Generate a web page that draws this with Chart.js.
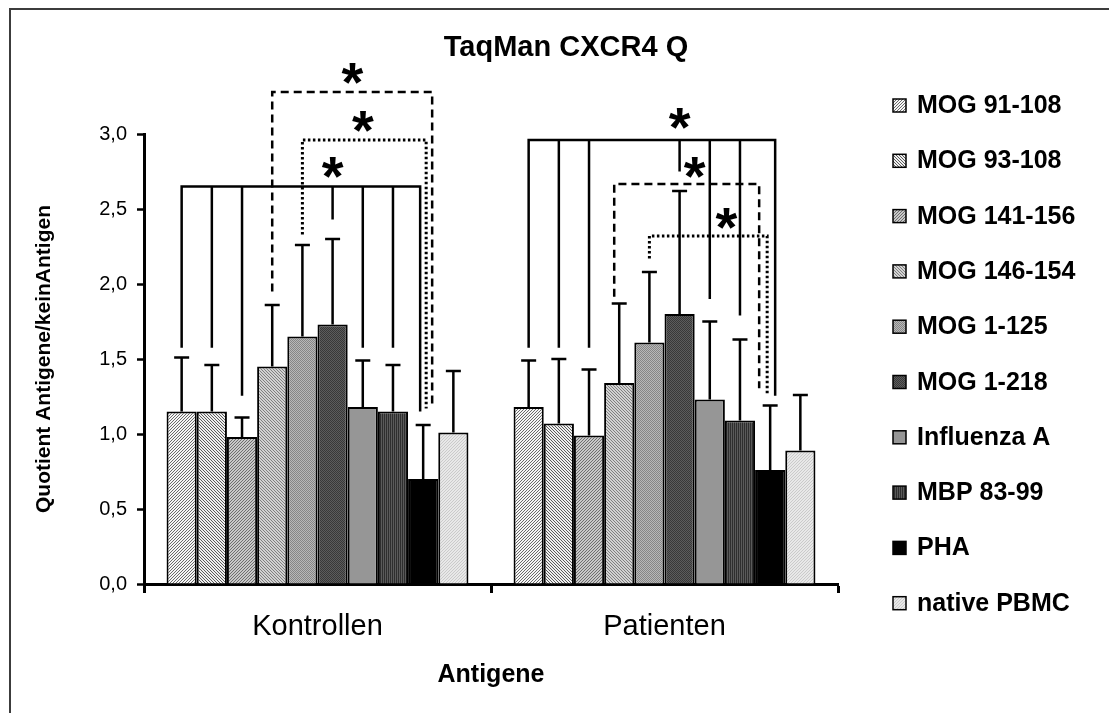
<!DOCTYPE html>
<html>
<head>
<meta charset="utf-8">
<script src="https://cdn.jsdelivr.net/npm/chart.js@4.4.1/dist/chart.umd.min.js"></script>
<style>
  html, body { margin: 0; padding: 0; background: #fff; overflow: hidden; }
  #frame { position: absolute; left: 9px; top: 8px; width: 1300px; height: 900px; border-left: 2px solid #3c3c3c; border-top: 2px solid #3c3c3c; }
  #chart { position: absolute; left: 0; top: 0; }
</style>
</head>
<body>
<div id="frame"></div>
<canvas id="chart" width="1109" height="713"></canvas>
<script>
(function () {
  'use strict';

  var chartTitle = 'TaqMan CXCR4 Q';
  var xTitle = 'Antigene';
  var yTitle = 'Quotient Antigene/keinAntigen';

  var groups = ['Kontrollen', 'Patienten'];
  var antigens = ['MOG 91-108', 'MOG 93-108', 'MOG 141-156', 'MOG 146-154', 'MOG 1-125',
    'MOG 1-218', 'Influenza A', 'MBP 83-99', 'PHA', 'native PBMC'];

  var kontrollenMean = [1.15, 1.15, 0.98, 1.45, 1.65, 1.73, 1.18, 1.15, 0.70, 1.01];
  var kontrollenSd = [0.36, 0.31, 0.13, 0.41, 0.61, 0.57, 0.31, 0.31, 0.36, 0.41];
  var patientenMean = [1.18, 1.07, 0.99, 1.34, 1.61, 1.80, 1.23, 1.09, 0.76, 0.89];
  var patientenSd = [0.31, 0.43, 0.44, 0.53, 0.47, 0.82, 0.52, 0.54, 0.43, 0.37];

  var yTicks = [0, 0.5, 1, 1.5, 2, 2.5, 3];

  // significance brackets, in data units: legs are [bar index, value where the leg stops, px nudge]
  var kontrollenBrackets = [
    { line: 'solid', level: 2.65, legs: [[0, 1.575], [1, 1.575], [2, 1.255], [5, 2.43], [6, 1.575], [7, 1.575], [8, 1.15, -3]], star: [5, 2.78] },
    { line: 'dashed', level: 3.28, legs: [[3, 1.95], [8, 1.18, 9]], star: [5.66, 3.41] },
    { line: 'dotted', level: 2.96, legs: [[4, 2.33], [8, 1.17, 3]], star: [6, 3.09] }
  ];
  var patientenBrackets = [
    { line: 'solid', level: 2.96, legs: [[0, 1.575], [1, 1.575], [2, 1.575], [5, 2.75], [6, 1.90], [7, 1.79], [8, 1.255, 5]], star: [5, 3.11] },
    { line: 'dashed', level: 2.667, legs: [[3, 1.915, -5], [8, 1.305, -11]], star: [5.5, 2.78] },
    { line: 'dotted', level: 2.32, legs: [[4, 2.17], [8, 1.255, -3]], star: [6.55, 2.44] }
  ];

  var fontFamily = '"Liberation Sans", Arial, sans-serif';

  // Excel style fills: base colour plus a fine pixel texture
  var fillStyles = [
    { base: '#f6f6f6', ink: '#6a6a6a', kind: 'up', step: 3 },
    { base: '#eeeeee', ink: '#5a5a5a', kind: 'down', step: 3 },
    { base: '#c8c8c8', ink: '#6e6e6e', kind: 'up', step: 3 },
    { base: '#d2d2d2', ink: '#808080', kind: 'down', step: 3 },
    { base: '#b8b8b8', ink: '#868686', kind: 'dots', step: 2 },
    { base: '#5c5c5c', ink: '#383838', kind: 'dots', step: 2 },
    { base: '#969696' },
    { base: '#5a5a5a', ink: '#2e2e2e', kind: 'vert', step: 2 },
    { base: '#000000' },
    { base: '#e8e8e8', ink: '#cacaca', kind: 'up', step: 3 }
  ];

  var canvas = document.getElementById('chart');
  var mainCtx = canvas.getContext('2d');

  function makeFill(f) {
    if (!f.kind) return f.base;
    var n = f.step;
    var tile = document.createElement('canvas');
    tile.width = n;
    tile.height = n;
    var g = tile.getContext('2d');
    g.fillStyle = f.base;
    g.fillRect(0, 0, n, n);
    g.fillStyle = f.ink;
    for (var x = 0; x < n; x++) {
      for (var y = 0; y < n; y++) {
        var hit = false;
        if (f.kind === 'up') hit = (x + y) % n === n - 1;
        else if (f.kind === 'down') hit = x === y;
        else if (f.kind === 'dots') hit = (x + y) % 2 === 0;
        else if (f.kind === 'vert') hit = x === 0;
        if (hit) g.fillRect(x, y, 1, 1);
      }
    }
    return mainCtx.createPattern(tile, 'repeat');
  }

  var datasets = antigens.map(function (name, i) {
    return {
      label: name,
      data: [kontrollenMean[i], patientenMean[i]],
      sd: [kontrollenSd[i], patientenSd[i]],
      backgroundColor: makeFill(fillStyles[i]),
      borderColor: '#000',
      borderWidth: 2,
      categoryPercentage: 0.87,
      barPercentage: 1.0
    };
  });

  var errorBars = {
    id: 'errorBars',
    afterDatasetsDraw: function (chart, args, opts) {
      var ctx = chart.ctx;
      var yScale = chart.scales.y;
      ctx.save();
      ctx.strokeStyle = '#000';
      ctx.lineWidth = opts.width;
      chart.data.datasets.forEach(function (ds, i) {
        chart.getDatasetMeta(i).data.forEach(function (bar, j) {
          var top = yScale.getPixelForValue(ds.data[j] + ds.sd[j]);
          ctx.beginPath();
          ctx.moveTo(bar.x, bar.y);
          ctx.lineTo(bar.x, top);
          ctx.moveTo(bar.x - opts.cap / 2, top);
          ctx.lineTo(bar.x + opts.cap / 2, top);
          ctx.stroke();
        });
      });
      ctx.restore();
    }
  };

  function barX(chart, group, pos) {
    var i = Math.floor(pos);
    var f = pos - i;
    var a = chart.getDatasetMeta(i).data[group].x;
    if (!f) return a;
    var b = chart.getDatasetMeta(i + 1).data[group].x;
    return a + (b - a) * f;
  }

  var brackets = {
    id: 'brackets',
    afterDatasetsDraw: function (chart, args, opts) {
      var ctx = chart.ctx;
      var yScale = chart.scales.y;
      var sets = [kontrollenBrackets, patientenBrackets];
      ctx.save();
      ctx.strokeStyle = '#000';
      ctx.fillStyle = '#000';
      ctx.lineJoin = 'miter';
      sets.forEach(function (list, group) {
        list.forEach(function (b) {
          ctx.setLineDash(opts.dash[b.line]);
          ctx.lineWidth = b.line === 'dotted' ? opts.dotWidth : opts.width;
          var top = yScale.getPixelForValue(b.level);
          var legs = b.legs.map(function (l) {
            return { x: barX(chart, group, l[0]) + (l[2] || 0), y: yScale.getPixelForValue(l[1]) };
          });
          var first = legs[0];
          var last = legs[legs.length - 1];
          ctx.beginPath();
          ctx.moveTo(first.x, first.y);
          ctx.lineTo(first.x, top);
          ctx.lineTo(last.x, top);
          ctx.lineTo(last.x, last.y);
          ctx.stroke();
          legs.slice(1, -1).forEach(function (l) {
            ctx.beginPath();
            ctx.moveTo(l.x, top);
            ctx.lineTo(l.x, l.y);
            ctx.stroke();
          });
          ctx.setLineDash([]);
          ctx.font = 'bold ' + opts.starSize + 'px ' + fontFamily;
          ctx.textAlign = 'center';
          ctx.textBaseline = 'alphabetic';
          var sx = barX(chart, group, b.star[0]);
          var sy = yScale.getPixelForValue(b.star[1]);
          ctx.fillText('*', sx, sy + opts.starSize * 0.5);
        });
      });
      ctx.restore();
    }
  };

  var sideText = {
    id: 'sideText',
    afterDraw: function (chart, args, opts) {
      var ctx = chart.ctx;
      ctx.save();
      ctx.fillStyle = '#000';
      ctx.textBaseline = 'alphabetic';
      ctx.textAlign = 'center';
      ctx.font = 'bold 29px ' + fontFamily;
      ctx.fillText(chartTitle, opts.titleX, opts.titleY);

      ctx.textAlign = 'left';
      ctx.font = 'bold 25px ' + fontFamily;
      chart.data.datasets.forEach(function (ds, i) {
        var cy = opts.legendTop + i * opts.legendStep;
        ctx.fillStyle = ds.backgroundColor;
        ctx.fillRect(opts.legendX, cy - 5, opts.box, opts.box);
        ctx.lineWidth = 1.5;
        ctx.strokeStyle = '#000';
        ctx.strokeRect(opts.legendX, cy - 5, opts.box, opts.box);
        ctx.fillStyle = '#000';
        ctx.fillText(ds.label, opts.legendX + opts.box + 11, cy + 9);
      });
      ctx.restore();
    }
  };

  new Chart(canvas, {
    type: 'bar',
    data: { labels: groups, datasets: datasets },
    plugins: [errorBars, brackets, sideText],
    options: {
      responsive: false,
      animation: false,
      layout: { padding: { left: 0, right: 271, top: 134, bottom: 23 } },
      plugins: {
        legend: { display: false },
        title: { display: false },
        tooltip: { enabled: false },
        errorBars: { width: 2.5, cap: 15 },
        brackets: { width: 2.5, dotWidth: 3, starSize: 56, dash: { solid: [], dashed: [8, 5], dotted: [2.5, 2.5] } },
        sideText: { titleX: 566, titleY: 56, legendX: 893, legendTop: 104, legendStep: 55.3, box: 13 }
      },
      scales: {
        x: {
          afterFit: function (s) { s.height = 106; },
          border: { color: '#000', width: 3 },
          grid: { drawOnChartArea: false, offset: true, tickLength: 9, tickColor: '#000', tickWidth: 3 },
          ticks: { color: '#000', padding: 17, font: { size: 29, family: fontFamily } },
          title: { display: true, text: xTitle, color: '#000', font: { size: 25, weight: 'bold', family: fontFamily }, padding: { top: 16, bottom: 0 } }
        },
        y: {
          min: 0,
          max: 3,
          afterBuildTicks: function (s) {
            s.ticks = yTicks.map(function (v) { return { value: v }; });
          },
          afterFit: function (s) { s.width = 144; },
          border: { color: '#000', width: 3 },
          grid: { drawOnChartArea: false, tickLength: 7, tickColor: '#000', tickWidth: 2.5 },
          ticks: {
            color: '#000',
            padding: 10,
            font: { size: 20, family: fontFamily },
            callback: function (v) { return Number(v).toFixed(1).replace('.', ','); }
          },
          title: { display: true, text: yTitle, color: '#000', font: { size: 21, weight: 'bold', family: fontFamily }, padding: { top: 32 } }
        }
      }
    }
  });
})();
</script>
</body>
</html>
